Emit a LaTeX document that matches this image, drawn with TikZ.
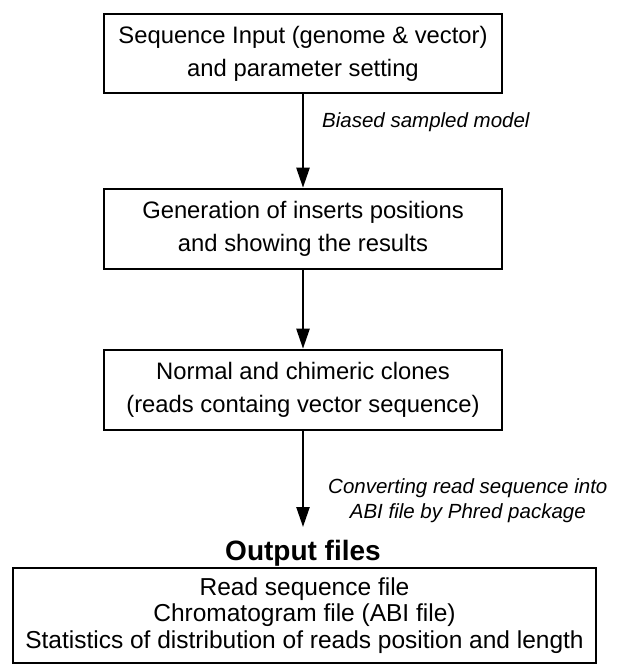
\documentclass[tikz,border=0pt]{standalone}
\usepackage{fontspec}
\setmainfont{Liberation Sans}
\usetikzlibrary{arrows.meta}
\begin{document}
\begin{tikzpicture}[x=1pt,y=-1pt,
  box/.style={draw, line width=2.6pt, align=center, inner sep=0pt, font=\fontsize{23.8}{33}\selectfont},
  flow/.style={line width=2.4pt, -{Triangle[width=13pt,length=20pt]}},
  lbl/.style={font=\fontsize{20.5}{25}\selectfont\itshape, align=center, anchor=west, inner sep=0pt}]
\useasboundingbox (0,0) rectangle (617,666);
\node[box, minimum width=398pt, minimum height=79pt] (b1) at (303,53.5) {Sequence Input (genome \& vector)\\and parameter setting};
\node[box, minimum width=398pt, minimum height=80pt] (b2) at (303,229) {Generation of inserts positions\\and showing the results};
\node[box, minimum width=398pt, minimum height=80pt] (b3) at (303,390) {Normal and chimeric clones\\(reads containg vector sequence)};
\node[font=\fontsize{28}{32}\selectfont\bfseries, inner sep=0pt] (out) at (303,553) {Output files};
\node[box, minimum width=583pt, minimum height=95pt, font=\fontsize{24.5}{26.5}\selectfont] (b4) at (304.5,615.5) {Read sequence file\\Chromatogram file (ABI file)\\Statistics of distribution of reads position and length};
\coordinate (e3) at (303,527);
\draw[flow] (b1) -- (b2);
\draw[flow] (b2) -- (b3);
\draw[flow] (b3) -- (e3);
\node[lbl] (l1) at (322,122) {Biased sampled model};
\node[lbl] (l2) at (328,501) {Converting read sequence into\\ABI file by Phred package};
\end{tikzpicture}
\end{document}
